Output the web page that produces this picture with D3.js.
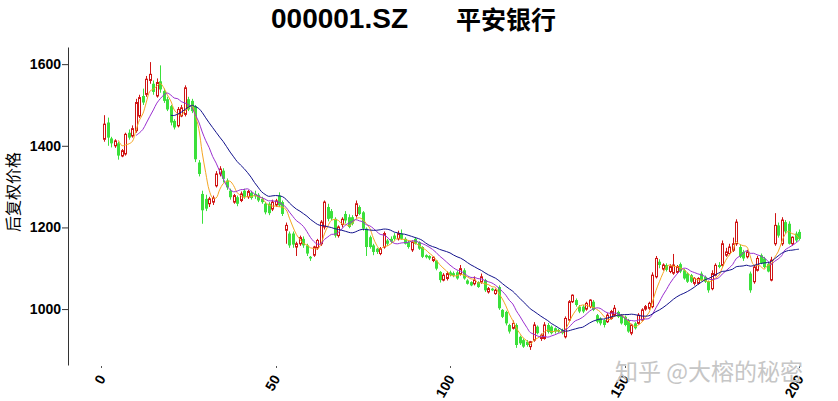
<!DOCTYPE html>
<html>
<head>
<meta charset="utf-8">
<script src="https://cdnjs.cloudflare.com/ajax/libs/d3/7.8.5/d3.min.js"></script>
<style>
body { margin: 0; background: #fff; }
svg { display: block; }
</style>
</head>
<body>
<script>

// daily bars (day 1 .. 200)
var openP = [
  1416,1457,1418,1400,1406,1375,1380,1432,1424,1437,
  1473,1522,1526,1560,1552,1522,1558,1534,1514,1497,
  1461,1449,1473,1477,1514,1510,1497,1359,1282,1270,
  1258,1262,1302,1331,1339,1315,1290,1262,1274,1266,
  1290,1275,1285,1282,1280,1270,1258,1258,1245,1255,
  1278,1262,1193,1185,1185,1152,1160,1172,1156,1128,
  1132,1150,1160,1201,1250,1240,1221,1180,1207,1233,
  1225,1225,1229,1250,1237,1197,1176,1156,1148,1136,
  1152,1168,1172,1180,1172,1185,1172,1164,1145,1172,
  1164,1152,1132,1130,1119,1119,1091,1071,1075,1090,
  1088,1090,1087,1095,1070,1066,1062,1066,1066,1071,
  1042,1050,1038,1054,998,993,961,953,961,932,
  924,920,908,924,957,928,928,961,957,953,
  949,949,932,973,1018,1022,1006,1006,1000,1006,
  1018,985,977,973,969,977,985,993,985,981,
  973,941,965,965,973,1000,1002,1006,1079,1116,
  1098,1108,1092,1088,1090,1110,1095,1087,1083,1063,
  1063,1087,1079,1067,1050,1083,1108,1107,1132,1136,
  1144,1160,1152,1140,1128,1087,1067,1095,1132,1124,
  1110,1071,1160,1205,1160,1213,1209,1160,1185,1189
];
var highP = [
  1475,1469,1422,1416,1410,1392,1432,1440,1450,1515,
  1525,1540,1571,1605,1560,1565,1597,1540,1520,1500,
  1465,1495,1500,1548,1520,1515,1500,1365,1290,1280,
  1275,1278,1338,1350,1345,1320,1295,1282,1278,1288,
  1295,1292,1290,1290,1284,1275,1262,1262,1268,1270,
  1286,1266,1212,1190,1190,1165,1180,1178,1160,1130,
  1155,1172,1218,1266,1258,1245,1225,1205,1225,1240,
  1232,1230,1266,1254,1240,1200,1180,1160,1150,1152,
  1190,1172,1178,1186,1192,1195,1176,1168,1168,1176,
  1166,1154,1134,1132,1130,1120,1093,1088,1092,1094,
  1092,1094,1108,1100,1073,1068,1080,1068,1087,1074,
  1054,1052,1050,1058,1000,996,964,972,965,935,
  928,924,922,968,960,940,968,966,960,955,
  952,952,982,1022,1036,1026,1010,1010,1018,1024,
  1022,988,980,975,990,998,1010,996,988,984,
  976,964,968,990,1002,1010,1018,1090,1130,1122,
  1112,1112,1110,1135,1108,1114,1098,1090,1086,1078,
  1078,1092,1082,1070,1095,1112,1115,1168,1150,1160,
  1175,1220,1158,1145,1145,1092,1108,1130,1136,1128,
  1114,1128,1235,1212,1225,1218,1215,1178,1190,1195
];
var lowP = [
  1410,1400,1396,1395,1366,1372,1376,1415,1420,1432,
  1468,1500,1520,1552,1525,1518,1530,1505,1485,1450,
  1440,1445,1470,1472,1485,1480,1360,1325,1209,1240,
  1250,1255,1298,1325,1310,1292,1268,1258,1252,1262,
  1270,1270,1268,1270,1262,1258,1232,1230,1240,1250,
  1250,1228,1160,1150,1150,1130,1155,1150,1130,1118,
  1128,1145,1155,1195,1215,1218,1175,1175,1200,1210,
  1198,1205,1224,1230,1192,1130,1148,1132,1135,1132,
  1148,1155,1162,1168,1168,1170,1158,1148,1140,1158,
  1145,1125,1124,1120,1115,1095,1065,1068,1070,1080,
  1078,1072,1082,1072,1060,1056,1058,1052,1062,1042,
  1038,1044,1035,998,978,960,940,950,905,912,
  905,908,900,920,938,922,925,940,938,940,
  942,938,928,970,1015,1006,990,990,996,1002,
  995,965,960,955,966,974,982,978,962,958,
  942,936,950,962,970,996,998,1002,1075,1100,
  1094,1092,1088,1084,1086,1088,1072,1064,1064,1058,
  1060,1068,1064,1040,1046,1080,1100,1104,1128,1132,
  1140,1155,1125,1118,1124,1040,1062,1092,1110,1100,
  1090,1068,1155,1175,1155,1185,1158,1155,1164,1168
];
var closeP = [
  1453,1420,1406,1412,1376,1388,1428,1420,1442,1506,
  1518,1506,1563,1575,1532,1555,1538,1510,1489,1457,
  1445,1489,1493,1542,1489,1485,1367,1331,1242,1246,
  1270,1272,1331,1343,1319,1298,1274,1278,1258,1282,
  1275,1288,1272,1276,1266,1262,1237,1235,1262,1265,
  1254,1233,1205,1156,1158,1160,1175,1156,1136,1124,
  1152,1168,1213,1262,1221,1222,1180,1201,1220,1217,
  1201,1209,1258,1233,1197,1152,1152,1140,1140,1148,
  1185,1160,1165,1172,1185,1172,1160,1152,1164,1160,
  1148,1128,1127,1124,1127,1099,1071,1083,1087,1083,
  1082,1075,1099,1075,1062,1058,1071,1054,1079,1046,
  1050,1046,1046,1002,981,965,945,965,912,916,
  908,912,920,961,941,936,961,944,941,945,
  945,941,977,1018,1034,1010,994,994,1014,1022,
  998,969,965,961,985,994,1002,981,965,961,
  945,961,953,985,998,1006,1014,1083,1124,1108,
  1108,1096,1104,1108,1104,1092,1075,1067,1067,1075,
  1075,1071,1067,1046,1087,1107,1103,1160,1140,1152,
  1160,1213,1128,1124,1140,1046,1103,1124,1112,1103,
  1092,1120,1205,1180,1218,1190,1160,1176,1168,1172
];

var maDays = [5, 10, 20];
var maColors = ["#f5a623", "#9b30d0", "#12128c"];
var yTicks = [1000, 1200, 1400, 1600],
    xTicks = [0, 50, 100, 150, 200];

var upColor = "#d01414", downColor = "#3be03b";

var svg = d3.select("body").append("svg")
    .attr("width", 838)
    .attr("height", 401);

//setup scales
var xScale = d3.scaleLinear().domain([0, 200]).range([101, 799]),
    yScale = d3.scaleLinear().domain([863, 1642]).range([365, 47]);

var bars = closeP.map(function(c, i) {
    return {k: i + 1, o: openP[i], h: highP[i], l: lowP[i], c: c};
});

// moving average of the close
var movAvg = function(n) {
    var out = [];
    for (var i = n - 1; i < closeP.length; i++) {
        out.push({k: i + 1, v: d3.mean(closeP.slice(i - n + 1, i + 1))});
    }
    return out;
};

// title, two pieces with a wide gap
svg.append("text")
    .attr("x", 408).attr("y", 28)
    .attr("text-anchor", "end")
    .style("font-family", "'Liberation Sans', Arial")
    .style("font-weight", "bold")
    .style("font-size", "28px")
    .text("000001.SZ");
svg.append("text")
    .attr("x", 456).attr("y", 29)
    .style("font-family", "'Noto Sans CJK SC'")
    .style("font-weight", "bold")
    .style("font-size", "25px")
    .text("平安银行");

// y-axis
var yAxis = svg.append("g")
    .attr("transform", "translate(68,0)")
    .call(d3.axisLeft(yScale).tickValues(yTicks).tickFormat(d3.format("d"))
        .tickSize(6).tickSizeOuter(0));
yAxis.select(".domain").attr("stroke", "#333");
yAxis.selectAll(".tick line").attr("stroke", "#333");
yAxis.selectAll(".tick text")
    .attr("x", -7)
    .style("font-family", "'Liberation Sans', Arial")
    .style("font-weight", "bold")
    .style("font-size", "14px")
    .style("fill", "#000");

// y label: baseline kept clear of the left edge
svg.append("text")
    .attr("transform", "translate(19,192) rotate(-90)")
    .attr("text-anchor", "middle")
    .style("font-family", "'Noto Sans CJK SC'")
    .style("font-size", "16px")
    .style("fill", "#000")
    .text("后复权价格");

// x ticks (no axis line)
var xg = svg.append("g");
xg.selectAll("line").data(xTicks).enter().append("line")
    .attr("x1", function(d) { return Math.round(xScale(d)) + 0.5; })
    .attr("x2", function(d) { return Math.round(xScale(d)) + 0.5; })
    .attr("y1", 366).attr("y2", 368)
    .attr("stroke", "#555");
xg.selectAll("text").data(xTicks).enter().append("text")
    .attr("transform", function(d) { return "translate(" + (xScale(d) + 1) + ",376) rotate(-60)"; })
    .attr("text-anchor", "end")
    .attr("dy", "0.35em")
    .style("font-family", "'Liberation Sans', Arial")
    .style("font-weight", "bold")
    .style("font-size", "14px")
    .text(function(d) { return d; });

// watermark
svg.append("text")
    .attr("x", 615).attr("y", 380)
    .style("font-family", "'Noto Sans CJK SC'")
    .style("font-size", "23px")
    .style("fill", "#c6c6c6")
    .text("知乎 @大榕的秘密");

// candles
var cx = function(d) { return Math.round(xScale(d.k)); };
var isUp = function(d) { return d.c >= d.o; };

var candle = svg.append("g").selectAll("g").data(bars).enter().append("g");
candle.append("line")
    .attr("x1", function(d) { return cx(d) + 0.5; })
    .attr("x2", function(d) { return cx(d) + 0.5; })
    .attr("y1", function(d) { return yScale(d.h); })
    .attr("y2", function(d) { return yScale(d.l); })
    .attr("stroke", function(d) { return isUp(d) ? upColor : downColor; });
candle.append("rect")
    .attr("x", function(d) { return isUp(d) ? cx(d) - 0.5 : cx(d) - 1; })
    .attr("width", function(d) { return isUp(d) ? 2 : 3; })
    .attr("y", function(d) { return yScale(Math.max(d.o, d.c)); })
    .attr("height", function(d) { return Math.max(1, yScale(Math.min(d.o, d.c)) - yScale(Math.max(d.o, d.c))); })
    .attr("fill", function(d) { return isUp(d) ? "#fff" : downColor; })
    .attr("stroke", function(d) { return isUp(d) ? upColor : "none"; })
    .attr("stroke-width", 1);

// moving average lines
var line = d3.line()
    .x(function(d) { return xScale(d.k); })
    .y(function(d) { return yScale(d.v); })
    .curve(d3.curveCatmullRom.alpha(0.5));

maDays.forEach(function(n, i) {
    svg.append("path")
        .datum(movAvg(n))
        .attr("d", line)
        .attr("fill", "none")
        .attr("stroke", maColors[i])
        .attr("stroke-width", 1);
});

</script>
</body>
</html>
